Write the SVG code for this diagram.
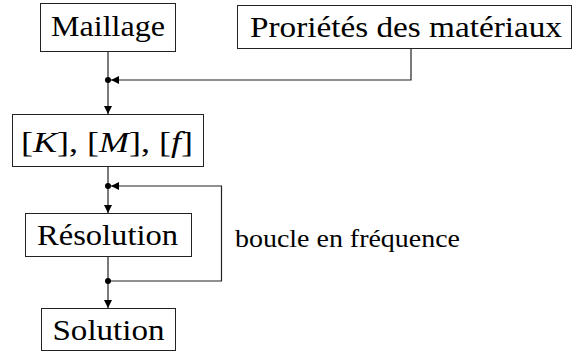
<svg xmlns="http://www.w3.org/2000/svg" width="574" height="354" viewBox="0 0 574 354">
<style>
.box{fill:#fff;stroke:#222;stroke-width:1}
.lbl{font-family:"Liberation Serif","DejaVu Serif",serif;font-size:30px;fill:#000;text-anchor:middle}
.line{fill:none;stroke:#222;stroke-width:1.2}
.dot{fill:#000}
.side{font-family:"Liberation Serif","DejaVu Serif",serif;font-size:25px;fill:#000}
</style>
<defs>
<marker id="arr" viewBox="0 0 10 10" refX="10" refY="5" markerWidth="8" markerHeight="8" markerUnits="userSpaceOnUse" orient="auto">
<path d="M0,0 L10,5 L0,10 Z" fill="#000"/>
</marker>
</defs>
<g id="connectors">
<path class="line" d="M108,52 V80"/>
<path class="line" d="M411,49 V80 H111" marker-end="url(#arr)"/>
<path class="line" d="M108,80 V114" marker-end="url(#arr)"/>
<path class="line" d="M108,167 V186"/>
<path class="line" d="M108,186 V213" marker-end="url(#arr)"/>
<path class="line" d="M108,257 V281"/>
<path class="line" d="M108,281 H221.5 V186 H111" marker-end="url(#arr)"/>
<path class="line" d="M108,281 V308" marker-end="url(#arr)"/>
<circle class="dot" cx="108" cy="80" r="3"/>
<circle class="dot" cx="108" cy="186" r="3"/>
<circle class="dot" cx="108" cy="281" r="3"/>
</g>
<g id="maillage">
<rect class="box" x="40.5" y="3.5" width="135" height="48"/>
<text class="lbl" x="108" y="36" textLength="114" lengthAdjust="spacingAndGlyphs">Maillage</text>
</g>
<g id="proprietes">
<rect class="box" x="237.5" y="5.5" width="334" height="43"/>
<text class="lbl" x="406" y="37" textLength="312" lengthAdjust="spacingAndGlyphs">Proriétés des matériaux</text>
</g>
<g id="matrices">
<rect class="box" x="12.5" y="114.5" width="191" height="52"/>
<text class="lbl" x="107" y="152" textLength="172" lengthAdjust="spacingAndGlyphs"><tspan>[</tspan><tspan font-style="italic">K</tspan><tspan>], [</tspan><tspan font-style="italic">M</tspan><tspan>], [</tspan><tspan font-style="italic">f</tspan><tspan>]</tspan></text>
</g>
<g id="resolution">
<rect class="box" x="25.5" y="213.5" width="166" height="43"/>
<text class="lbl" x="107.5" y="245" textLength="141" lengthAdjust="spacingAndGlyphs">Résolution</text>
</g>
<g id="solution">
<rect class="box" x="41.5" y="308.5" width="134" height="42"/>
<text class="lbl" x="108.5" y="340" textLength="112" lengthAdjust="spacingAndGlyphs">Solution</text>
</g>
<text class="side" x="235" y="247" textLength="225" lengthAdjust="spacingAndGlyphs">boucle en fréquence</text>
</svg>
